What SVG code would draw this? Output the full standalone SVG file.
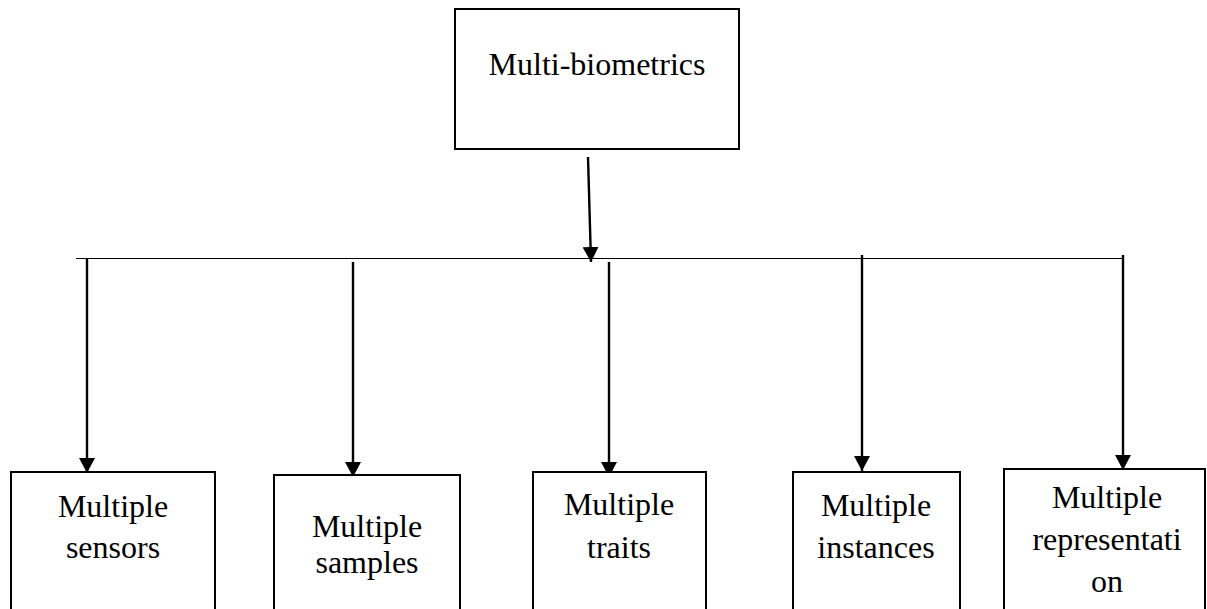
<svg xmlns="http://www.w3.org/2000/svg" width="1207" height="609" viewBox="0 0 1207 609">
<style>
.box{fill:#fff;stroke:#000;stroke-width:2}
.t{font-family:"Liberation Serif","Times New Roman",serif;font-size:32px;fill:#000;text-anchor:middle}
.ar{stroke:#000;stroke-width:2.4;fill:none;marker-end:url(#ah)}
.hl{stroke:#000;stroke-width:1.2;fill:none}
</style>
<defs>
<marker id="ah" markerUnits="userSpaceOnUse" markerWidth="15" markerHeight="16" viewBox="0 0 15 16" refX="15" refY="8" orient="auto">
<path d="M0,0 L15,8 L0,16 Z" fill="#000"/>
</marker>
</defs>
<g id="connectors">
<line class="hl" x1="76" y1="258.5" x2="1124" y2="258.5"/>
<line class="ar" x1="588" y1="157" x2="591" y2="262"/>
<line class="ar" x1="87" y1="258" x2="87" y2="473"/>
<line class="ar" x1="353" y1="262" x2="353" y2="477"/>
<line class="ar" x1="609" y1="262" x2="609" y2="477"/>
<line class="ar" x1="862" y1="255" x2="862" y2="471"/>
<line class="ar" x1="1123" y1="255" x2="1123" y2="470"/>
</g>
<g id="n-multi-biometrics">
<rect class="box" x="455" y="9" width="284" height="140"/>
<text class="t" x="597" y="75">Multi-biometrics</text>
</g>
<g id="n-sensors">
<rect class="box" x="11" y="472" width="204" height="150"/>
<text class="t" x="113" y="517">Multiple</text>
<text class="t" x="113" y="558">sensors</text>
</g>
<g id="n-samples">
<rect class="box" x="274" y="475" width="186" height="150"/>
<text class="t" x="367" y="537">Multiple</text>
<text class="t" x="367" y="573">samples</text>
</g>
<g id="n-traits">
<rect class="box" x="533" y="472" width="173" height="150"/>
<text class="t" x="619" y="515">Multiple</text>
<text class="t" x="619" y="558">traits</text>
</g>
<g id="n-instances">
<rect class="box" x="793" y="472" width="167" height="150"/>
<text class="t" x="876" y="516">Multiple</text>
<text class="t" x="876" y="558">instances</text>
</g>
<g id="n-representation">
<rect class="box" x="1004" y="469" width="201" height="150"/>
<text class="t" x="1107" y="508">Multiple</text>
<text class="t" x="1107" y="550">representati</text>
<text class="t" x="1107" y="592">on</text>
</g>
</svg>
